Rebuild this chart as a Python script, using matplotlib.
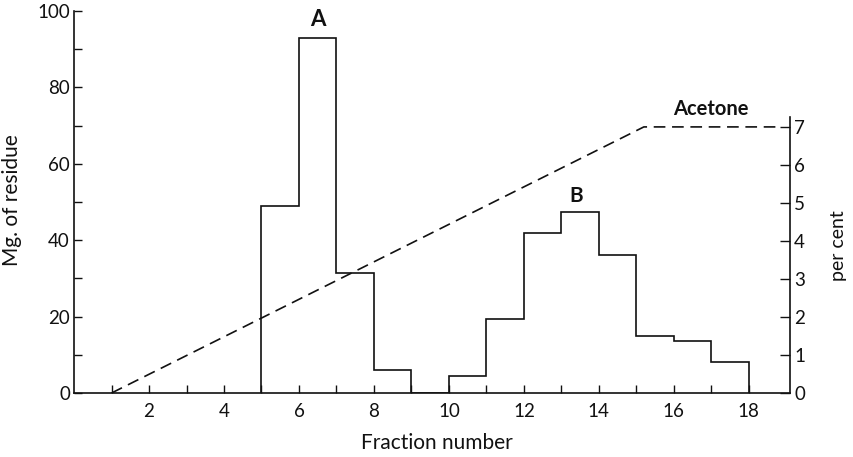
import matplotlib
matplotlib.use("Agg")
import matplotlib.pyplot as plt

plt.rcParams['font.family'] = ['Lato', 'DejaVu Sans']

# residue per fraction (mg), steps between fraction edges
edges = [5, 6, 7, 8, 9, 10, 11, 12, 13, 14, 15, 16, 17, 18]
residue = [49, 93, 31.5, 6, 0, 4.5, 19.5, 42, 47.5, 36, 15, 13.5, 8]

# acetone gradient (per cent)
acetone_x = [1, 15.2, 18.8]
acetone_y = [0, 7, 7]

ink = '#111111'

fig = plt.figure(figsize=(8.54, 4.57), dpi=100)
ax = fig.add_axes([0.0867, 0.140, 0.8384, 0.836])

ax.stairs(residue, edges, baseline=0, color=ink, lw=1.2)

ax.set_xlim(0, 19.1)
ax.set_ylim(0, 100)
ax.set_xticks(range(1, 19))
ax.set_xticklabels([str(i) if i % 2 == 0 else '' for i in range(1, 19)])
ax.set_yticks(range(0, 101, 10))
ax.set_yticklabels([str(i) if i % 20 == 0 else '' for i in range(0, 101, 10)])
ax.tick_params(axis='x', direction='in', length=6, width=1, pad=7,
               labelsize=13.5, colors=ink)
ax.tick_params(axis='y', direction='in', length=6, width=1, pad=3,
               labelsize=13.5, colors=ink)
for s in ['top', 'right']:
    ax.spines[s].set_visible(False)
for s in ['left', 'bottom']:
    ax.spines[s].set_linewidth(1.2)
    ax.spines[s].set_color(ink)

ax.set_xlabel('Fraction number', fontsize=15, color=ink)
ax.xaxis.set_label_coords(0.507, -0.105)
ax.set_ylabel('Mg. of residue', fontsize=15, color=ink)
ax.yaxis.set_label_coords(-0.072, 0.505)

ax.text(6.5, 95, 'A', ha='center', va='bottom', fontsize=16,
        fontweight='bold', color=ink)
ax.text(13.4, 49, 'B', ha='center', va='bottom', fontsize=15,
        fontweight='bold', color=ink)

ax2 = ax.twinx()
ax2.set_ylim(0, 10.05)
ax2.plot(acetone_x, acetone_y, color=ink, lw=1.2, linestyle=(0, (7, 4)))
ax2.text(17.0, 7.2, 'Acetone', ha='center', va='bottom', fontsize=14.5,
         fontweight='bold', color=ink)
ax2.set_yticks(range(0, 8))
ax2.tick_params(axis='y', direction='in', length=7, width=1, pad=3,
                labelsize=13.5, colors=ink)
for s in ['top', 'left', 'bottom']:
    ax2.spines[s].set_visible(False)
ax2.spines['right'].set_bounds(0, 7.25)
ax2.spines['right'].set_linewidth(1.2)
ax2.spines['right'].set_color(ink)
ax2.set_ylabel('per cent', fontsize=14, color=ink)
ax2.yaxis.set_label_coords(1.056, 0.387)

plt.savefig('out.png', dpi=100)
